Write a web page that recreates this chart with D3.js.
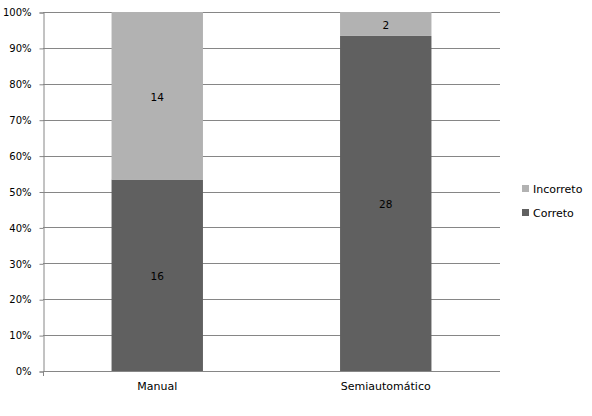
<!DOCTYPE html>
<html>
<head>
<meta charset="utf-8">
<script src="https://cdn.jsdelivr.net/npm/d3@7"></script>
<style>
  body { margin: 0; background: #fff; }
  text { font-family: "DejaVu Sans", Verdana, sans-serif; font-size: 10px; fill: #000; }
</style>
</head>
<body>
<svg id="chart" width="592" height="416"></svg>
<script>
const categories = ["Manual", "Semiautomático"];
const correto = [16, 28];
const incorreto = [14, 2];
const seriesNames = ["Correto", "Incorreto"];
const seriesColors = ["#606060", "#b2b2b2"];
const yTicks = [0, 0.1, 0.2, 0.3, 0.4, 0.5, 0.6, 0.7, 0.8, 0.9, 1];

const rows = categories.map((c, i) => ({ cat: c, Correto: correto[i], Incorreto: incorreto[i] }));

const svg = d3.select("#chart");
const plotLeft = 43, plotRight = 500, plotTop = 12, plotBottom = 371;

const x = d3.scaleBand()
  .domain(categories)
  .range([plotLeft, plotRight])
  .paddingInner(0.6)
  .paddingOuter(0.3);

const y = d3.scaleLinear().domain([0, 1]).range([plotBottom, plotTop]);

const stack = d3.stack()
  .keys(seriesNames)
  .offset(d3.stackOffsetExpand);
const stacked = stack(rows);

// gridlines
svg.append("g")
  .selectAll("line")
  .data(yTicks.slice(1))
  .enter().append("line")
  .attr("x1", plotLeft).attr("x2", plotRight)
  .attr("y1", d => Math.round(y(d)) + 0.5)
  .attr("y2", d => Math.round(y(d)) + 0.5)
  .style("stroke", "#868686")
  .style("stroke-width", 1);

// bars
const color = d3.scaleOrdinal().domain(seriesNames).range(seriesColors);
const layer = svg.append("g")
  .selectAll("g")
  .data(stacked)
  .enter().append("g")
  .attr("fill", d => color(d.key));

layer.selectAll("rect")
  .data(d => d)
  .enter().append("rect")
  .attr("x", d => x(d.data.cat))
  .attr("width", x.bandwidth())
  .attr("y", d => y(d[1]))
  .attr("height", d => y(d[0]) - y(d[1]));

layer.selectAll("text")
  .data(d => d.map(v => Object.assign({ key: d.key }, v)))
  .enter().append("text")
  .attr("x", d => x(d.data.cat) + x.bandwidth() / 2)
  .attr("y", d => (y(d[0]) + y(d[1])) / 2 + 5)
  .attr("text-anchor", "middle")
  .style("font-size", "10.5px")
  .text(d => d.data[d.key]);

// y axis
const yAxis = d3.axisLeft(y)
  .tickValues(yTicks)
  .tickFormat(d3.format(".0%"))
  .tickSize(4)
  .tickPadding(8);
const gy = svg.append("g")
  .attr("transform", "translate(" + (plotLeft + 0.5) + ",0.5)")
  .call(yAxis);
gy.selectAll("path, line").style("stroke", "#868686");
gy.selectAll("text").style("font-size", "10px").attr("fill", "#000");

// x axis
const xAxis = d3.axisBottom(x).tickSize(0).tickPadding(11);
const gx = svg.append("g")
  .attr("transform", "translate(0," + (plotBottom + 0.5) + ")")
  .call(xAxis);
gx.select(".domain").attr("d", "M" + plotLeft + ",0H" + plotRight).style("stroke", "#868686");
gx.selectAll("text").style("font-size", "11px").attr("fill", "#000");
// small tick under the y axis
svg.append("line")
  .attr("x1", plotLeft + 0.5).attr("x2", plotLeft + 0.5)
  .attr("y1", plotBottom).attr("y2", plotBottom + 5)
  .style("stroke", "#868686");

// legend
const legend = svg.append("g")
  .selectAll("g")
  .data(seriesNames.slice().reverse())
  .enter().append("g")
  .attr("transform", (d, i) => "translate(522," + (185 + i * 24) + ")");
legend.append("rect")
  .attr("width", 7).attr("height", 7)
  .attr("fill", d => color(d));
legend.append("text")
  .attr("x", 11).attr("y", 8)
  .style("font-size", "11px")
  .text(d => d);
</script>
</body>
</html>
